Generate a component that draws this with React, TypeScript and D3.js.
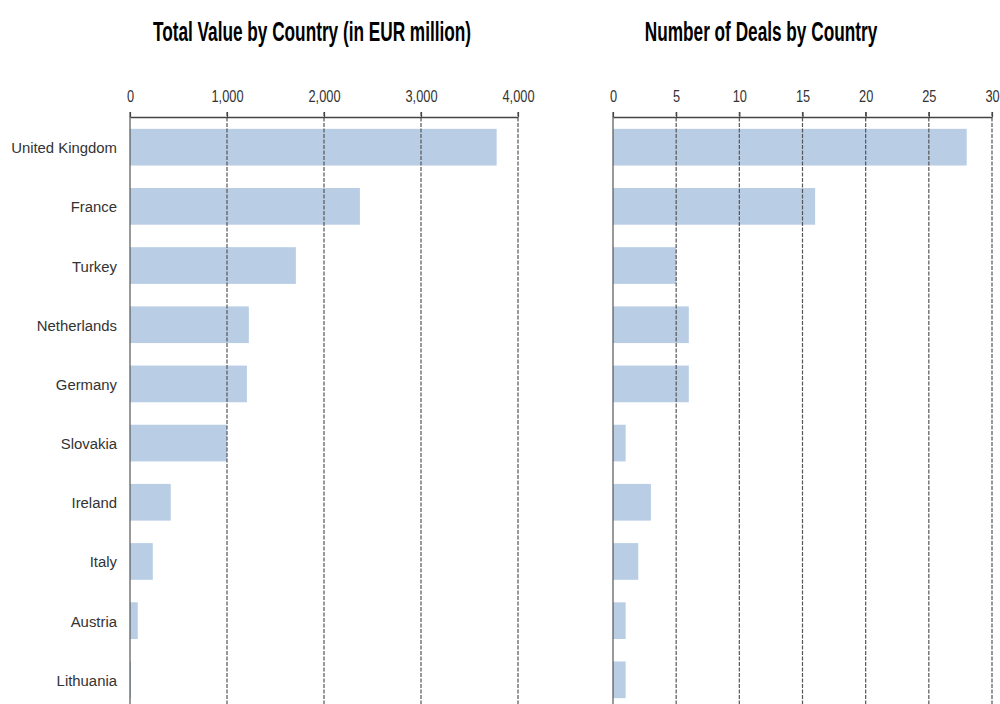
import React, { useEffect, useRef } from "react";
import * as d3 from "d3";

// categories, top to bottom
const countries = [
  "United Kingdom",
  "France",
  "Turkey",
  "Netherlands",
  "Germany",
  "Slovakia",
  "Ireland",
  "Italy",
  "Austria",
  "Lithuania",
];

// total value, EUR million
const totalValue = [3780, 2370, 1710, 1225, 1205, 1000, 420, 235, 80, 10];

// number of deals
const dealCount = [28, 16, 5, 6, 6, 1, 3, 2, 1, 1];

const valueTicks = [0, 1000, 2000, 3000, 4000];
const dealTicks = [0, 5, 10, 15, 20, 25, 30];

const width = 1000;
const height = 704;
const axisY = 117;
const font = "'Liberation Sans', Arial, sans-serif";

function App() {
  const ref = useRef<SVGSVGElement>(null);

  useEffect(() => {
    const svg = d3.select(ref.current);
    svg.selectAll("*").remove();

    const y = d3
      .scaleBand<string>()
      .domain(countries)
      .range([axisY, 710])
      .paddingInner(0.38)
      .paddingOuter(0.2);

    // draws one panel: title, bars, gridlines, axis
    // (no narrow font installed, so text is squeezed with scaleX)
    function panel(values: number[], ticks: number[], domain: [number, number], xRange: [number, number], title: string, titleX: number, fmt: (d: number) => string) {
      const x = d3.scaleLinear().domain(domain).range(xRange);
      const g = svg.append("g");

      g.append("text")
        .attr("transform", `translate(${titleX},41) scale(0.615,1)`)
        .attr("text-anchor", "middle")
        .attr("font-family", font)
        .attr("font-weight", "bold")
        .attr("font-size", 28)
        .attr("fill", "#000")
        .text(title);

      g.append("g")
        .selectAll("rect")
        .data(values)
        .join("rect")
        .attr("x", x(0))
        .attr("y", (_, i) => y(countries[i])!)
        .attr("width", (d) => x(d) - x(0))
        .attr("height", y.bandwidth())
        .attr("fill", "#b9cde5");

      // gridlines
      g.append("g")
        .selectAll("line")
        .data(ticks)
        .join("line")
        .attr("x1", (d) => x(d))
        .attr("x2", (d) => x(d))
        .attr("y1", axisY - 5)
        .attr("y2", height)
        .attr("stroke", "#555")
        .attr("stroke-width", 1.2)
        .attr("stroke-dasharray", (d) => (d === 0 ? null : "4,1.5"));

      const axis = d3
        .axisTop(x)
        .tickValues(ticks)
        .tickFormat((d) => fmt(d as number))
        .tickSize(5)
        .tickSizeOuter(0);

      g.append("g")
        .attr("transform", `translate(0,${axisY})`)
        .call(axis)
        .call((a) => a.select(".domain").attr("stroke", "#444").attr("stroke-width", 1.4))
        .call((a) => a.selectAll(".tick line").attr("stroke", "#444").attr("stroke-width", 1.2))
        .call((a) =>
          a
            .selectAll(".tick text")
            .attr("font-family", font)
            .attr("font-size", 16)
            .attr("fill", "#333")
            .attr("dy", -7)
            .attr("transform", "scale(0.8,1)")
        );
    }

    panel(totalValue, valueTicks, [0, 4000], [130, 518], "Total Value by Country (in EUR million)", 312, d3.format(","));
    panel(dealCount, dealTicks, [0, 30], [613, 992], "Number of Deals by Country", 761, d3.format("d"));

    // category labels
    svg
      .append("g")
      .selectAll("text")
      .data(countries)
      .join("text")
      .attr("transform", (d) => `translate(117,${y(d)! + y.bandwidth() / 2 + 6}) scale(0.96,1)`)
      .attr("text-anchor", "end")
      .attr("font-family", font)
      .attr("font-size", 15.5)
      .attr("fill", "#333")
      .text((d) => d);
  }, []);

  return (
    <div style={{ position: "absolute", left: 0, top: 0, background: "#fff" }}>
      <svg ref={ref} width={width} height={height} />
    </div>
  );
}

export default App;
